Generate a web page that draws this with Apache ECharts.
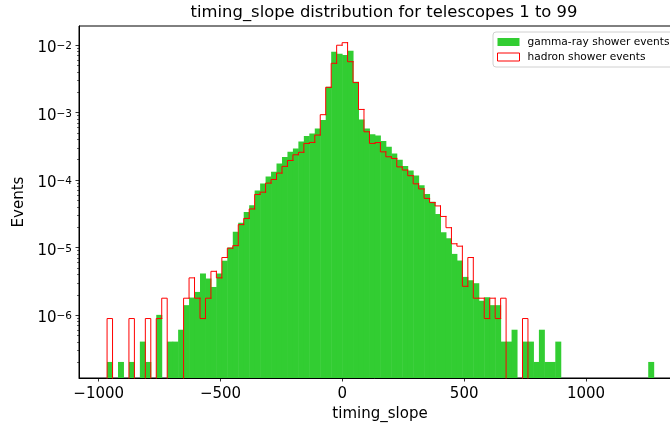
<!DOCTYPE html>
<html><head><meta charset="utf-8">
<script src="https://cdn.jsdelivr.net/npm/echarts@6/dist/echarts.min.js"></script>
<style>html,body{margin:0;padding:0;background:#fff;overflow:hidden}#c{width:670px;height:425px}</style>
</head><body><div id="c"></div>
<script>
// histogram bins (matplotlib-style, 100 equal bins)
const binStart = -965.8, binEnd = 1277.9, nBins = 100;

// gamma-ray shower events (density per bin)
const gamma = [
2.05e-7, 0, 2.05e-7, 0, 2.05e-7, 0, 4.1e-7, 2.05e-7, 0, 1.02e-6,
0, 4.1e-7, 4.1e-7, 6.15e-7, 1.42e-6, 1.84e-6, 2.23e-6, 4.18e-6, 3.52e-6, 2.64e-6,
4.18e-6, 6.46e-6, 1.01e-5, 1.73e-5, 2.36e-5, 3.41e-5, 4.29e-5, 7.08e-5, 9.0e-5, 1.14e-4,
1.34e-4, 1.78e-4, 2.21e-4, 2.64e-4, 2.97e-4, 3.77e-4, 4.52e-4, 4.95e-4, 5.87e-4, 7.8e-4,
2.43e-3, 8.0e-3, 7.5e-3, 7.16e-3, 8.3e-3, 2.88e-3, 7.93e-4, 5.87e-4, 4.8e-4, 4.6e-4,
3.81e-4, 3.13e-4, 2.5e-4, 2.01e-4, 1.63e-4, 1.4e-4, 1.18e-4, 8.49e-5, 6.25e-5, 4.8e-5,
3.18e-5, 1.7e-5, 1.39e-5, 8.15e-6, 6.5e-6, 3.72e-6, 3.32e-6, 3.0e-6, 1.65e-6, 1.86e-6,
1.42e-6, 1.42e-6, 4.1e-7, 4.1e-7, 6.15e-7, 0, 4.1e-7, 4.1e-7, 2.05e-7, 6.15e-7,
2.05e-7, 2.05e-7, 4.1e-7, 0, 0, 0, 0, 0, 0, 0,
0, 0, 0, 0, 0, 0, 0, 0, 0, 2.05e-7
];

// hadron shower events (density per bin)
const hadron = [
9e-7, 0, 0, 0, 9e-7, 0, 0, 9e-7, 0, 9e-7,
1.8e-6, 0, 0, 0, 1.8e-6, 3.6e-6, 1.8e-6, 9e-7, 1.8e-6, 4.5e-6,
3.6e-6, 7.2e-6, 9.9e-6, 1.08e-5, 2.21e-5, 2.73e-5, 3.77e-5, 6.18e-5, 6.68e-5, 9.1e-5,
1.03e-4, 1.28e-4, 1.61e-4, 1.97e-4, 2.39e-4, 2.6e-4, 3.52e-4, 3.64e-4, 4.68e-4, 9.37e-4,
2.38e-3, 5.4e-3, 1.0e-2, 1.09e-2, 5.7e-3, 2.8e-3, 1.12e-3, 5.23e-4, 3.52e-4, 3.62e-4,
2.64e-4, 2.23e-4, 2.11e-4, 1.58e-4, 1.42e-4, 1.17e-4, 8.87e-5, 7.46e-5, 5.4e-5, 4.68e-5,
4.18e-5, 2.92e-5, 1.99e-5, 1.15e-5, 1.06e-5, 2.7e-6, 7.2e-6, 1.8e-6, 1.8e-6, 9e-7,
1.8e-6, 9e-7, 1.8e-6, 0, 0, 0, 9e-7, 0, 0, 0,
0, 0, 0, 0, 0, 0, 0, 0, 0, 0,
0, 0, 0, 0, 0, 0, 0, 0, 0, 0
];

const xTicks = [-1000, -500, 0, 500, 1000];
const yMajor = [1e-6, 1e-5, 1e-4, 1e-3, 1e-2];
const yMinor = [
2e-7, 3e-7, 4e-7, 5e-7, 6e-7, 7e-7, 8e-7, 9e-7,
2e-6, 3e-6, 4e-6, 5e-6, 6e-6, 7e-6, 8e-6, 9e-6,
2e-5, 3e-5, 4e-5, 5e-5, 6e-5, 7e-5, 8e-5, 9e-5,
2e-4, 3e-4, 4e-4, 5e-4, 6e-4, 7e-4, 8e-4, 9e-4,
2e-3, 3e-3, 4e-3, 5e-3, 6e-3, 7e-3, 8e-3, 9e-3
];
const xMin = -1081, xMax = 1390, yMin = 1.186e-7, yMax = 0.01925;
const FONT = 'DejaVu Sans';

const binW = (binEnd - binStart) / nBins;
const edge = i => binStart + i * binW;

const gammaItems = gamma.map((v, i) => [edge(i), edge(i + 1), v]).filter(d => d[2] > 0);
const hadronItems = hadron.map((v, i) => [edge(i), edge(i + 1), v,
  i > 0 ? hadron[i - 1] : 0, i < nBins - 1 ? hadron[i + 1] : 0]).filter(d => d[2] > 0);
const tickItems = yMajor.map(v => [xMin, v, 3.5, 0.8]).concat(yMinor.map(v => [xMin, v, 2, 0.6]));

const chart = echarts.init(document.getElementById('c'), null, {renderer: 'canvas'});
chart.setOption({
  animation: false,
  backgroundColor: '#fff',
  title: {
    text: 'timing_slope distribution for telescopes 1 to 99',
    left: 384, top: 5, textAlign: 'center', padding: 0,
    textStyle: {fontFamily: FONT, fontSize: 16.4, fontWeight: 'normal', color: '#000'}
  },
  legend: {
    orient: 'vertical', left: 493, top: 32, padding: [4, 4, 4, 4],
    itemWidth: 22, itemHeight: 8, itemGap: 3, selectedMode: false,
    backgroundColor: 'rgba(255,255,255,0.8)', borderColor: '#d0d0d0', borderWidth: 1, borderRadius: 3,
    textStyle: {fontFamily: FONT, fontSize: 10.6, color: '#000', lineHeight: 12, padding: [0, 0, 0, 3]},
    data: [
      {name: 'gamma-ray shower events', icon: 'rect', itemStyle: {color: '#32cd32', borderWidth: 0}},
      {name: 'hadron shower events', icon: 'rect', itemStyle: {color: '#fff', borderColor: '#ff0000', borderWidth: 1}}
    ]
  },
  grid: {left: 79, top: 26, width: 602, bottom: 47, outerBoundsMode: 'none', containLabel: false,
    show: true, borderColor: '#000', borderWidth: 1, backgroundColor: 'transparent'},
  xAxis: {
    type: 'value', min: xMin, max: xMax,
    name: 'timing_slope', nameLocation: 'middle', nameGap: 28,
    nameTextStyle: {fontFamily: FONT, fontSize: 15, color: '#000'},
    axisLine: {show: true, onZero: false, lineStyle: {color: '#000', width: 1}},
    axisTick: {show: true, length: 3.5, lineStyle: {color: '#000', width: 0.8}, customValues: xTicks},
    axisLabel: {customValues: xTicks, margin: 9, fontFamily: FONT, fontSize: 15, color: '#000',
      formatter: v => v < 0 ? '\u2212' + Math.abs(v) : String(v)},
    splitLine: {show: false}
  },
  yAxis: {
    type: 'log', logBase: 10, min: yMin, max: yMax,
    name: 'Events', nameLocation: 'middle', nameGap: 41, nameRotate: 90,
    nameTextStyle: {fontFamily: FONT, fontSize: 15, color: '#000'},
    axisLine: {show: true, onZero: false, lineStyle: {color: '#000', width: 1}},
    axisTick: {show: false},
    splitLine: {show: false},
    minorTick: {show: false},
    axisLabel: {
      margin: 7, fontFamily: FONT, color: '#000', padding: [6, 0, 0, 0],
      formatter: v => {
        const e = Math.log10(v), r = Math.round(e);
        if (Math.abs(e - r) > 1e-6) return '';
        return '{b|10}{s|' + (r < 0 ? '\u2212' : '') + Math.abs(r) + '}';
      },
      rich: {
        b: {fontFamily: FONT, fontSize: 15, color: '#000', lineHeight: 15, verticalAlign: 'bottom'},
        s: {fontFamily: FONT, fontSize: 10.5, color: '#000', lineHeight: 11, verticalAlign: 'top', padding: [0, 0, 9, 0]}
      }
    }
  },
  series: [
    {
      type: 'custom', name: 'gamma-ray shower events', silent: true, z: 2,
      itemStyle: {color: '#32cd32'},
      data: gammaItems, encode: {x: [0, 1], y: 2},
      renderItem: (params, api) => {
        const cs = params.coordSys;
        const bottom = cs.y + cs.height;
        const p0 = api.coord([api.value(0), api.value(2)]);
        const p1 = api.coord([api.value(1), api.value(2)]);
        return {type: 'rect', shape: {x: p0[0], y: p0[1], width: p1[0] - p0[0] + 0.5, height: bottom - p0[1]},
          style: {fill: '#32cd32'}};
      }
    },
    {
      type: 'custom', name: 'hadron shower events', silent: true, z: 3,
      itemStyle: {color: '#ff0000'},
      data: hadronItems, encode: {x: [0, 1], y: 2},
      renderItem: (params, api) => {
        const cs = params.coordSys;
        const bottom = cs.y + cs.height;
        const x0 = api.value(0), x1 = api.value(1), v = api.value(2), pv = api.value(3), nv = api.value(4);
        const a = api.coord([x0, v]);
        const b = api.coord([x1, v]);
        const yPrev = pv > 0 ? api.coord([x0, pv])[1] : bottom;
        const pts = [[a[0], yPrev], [a[0], a[1]], [b[0], b[1]]];
        if (!(nv > 0)) pts.push([b[0], bottom]);
        return {type: 'polyline', shape: {points: pts},
          style: {stroke: '#ff0000', lineWidth: 1, fill: null, lineCap: 'square', lineJoin: 'miter'}};
      }
    },
    {
      type: 'custom', silent: true, z: 4, clip: false,
      data: tickItems, encode: {x: 0, y: 1},
      renderItem: (params, api) => {
        const p = api.coord([api.value(0), api.value(1)]);
        const len = api.value(2), w = api.value(3);
        const y = Math.round(p[1] - 0.5) + 0.5;
        return {type: 'line', shape: {x1: p[0] - len, y1: y, x2: p[0], y2: y},
          style: {stroke: '#000', lineWidth: w}};
      }
    }
  ]
});
</script>
</body></html>
